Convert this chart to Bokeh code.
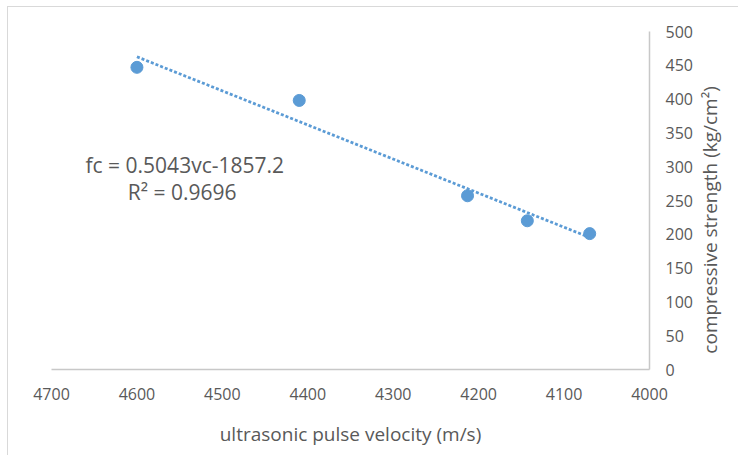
import math
from bokeh.plotting import figure
from bokeh.models import LinearAxis, Range1d, Label, FixedTicker
from bokeh.embed import file_html
from bokeh.resources import INLINE

# Data
velocity = [4600, 4410, 4213, 4143, 4070]          # ultrasonic pulse velocity (m/s)
strength = [447, 398, 257, 220, 201]                 # compressive strength (kg/cm²)
trend_x = [4600, 4070]
trend_y = [462.6, 195.3]
x_ticks = [4000, 4100, 4200, 4300, 4400, 4500, 4600, 4700]
y_ticks = [0, 50, 100, 150, 200, 250, 300, 350, 400, 450, 500]
equation_text = "fc = 0.5043vc-1857.2"
r2_text = "R\u00b2 = 0.9696"
y_title = "compressive strength (kg/cm\u00b2)"
y_title_at = 256  # vertical centre of the right-hand title, in axis units

FONT = "Open Sans"
TXT = "#595959"
BLUE = "#5b9bd5"
AXIS = "#c8c8c8"

p = figure(width=731, height=449, output_backend="svg", toolbar_location=None,
           x_range=Range1d(4700, 4000), y_range=Range1d(0, 500),
           y_axis_location=None, min_border_left=43, min_border_right=90,
           min_border_top=24, min_border_bottom=87)
p.styles = {"margin-left": "7px", "margin-top": "6px",
            "border-left": "1.5px solid #d9d9d9", "border-top": "1.5px solid #d9d9d9"}
p.outline_line_color = None
p.xgrid.grid_line_color = None
p.ygrid.grid_line_color = None
p.background_fill_color = "white"
p.border_fill_color = "white"

# x axis styling
xa = p.xaxis[0]
xa.ticker = FixedTicker(ticks=x_ticks)
xa.axis_label = "ultrasonic pulse velocity (m/s)"
xa.axis_line_color = AXIS
xa.axis_line_width = 1.5
xa.major_tick_line_color = None
xa.minor_tick_line_color = None
xa.major_label_standoff = 12
xa.major_label_text_font = FONT
xa.major_label_text_font_size = "16px"
xa.major_label_text_color = TXT
xa.axis_label_standoff = 18
xa.axis_label_text_font = FONT
xa.axis_label_text_font_size = "19px"
xa.axis_label_text_font_style = "normal"
xa.axis_label_text_color = TXT

# y axis on the right
ya = LinearAxis(ticker=FixedTicker(ticks=y_ticks))
ya.axis_line_color = AXIS
ya.axis_line_width = 1.5
ya.major_tick_line_color = None
ya.minor_tick_line_color = None
ya.major_label_standoff = 10
ya.major_label_text_font = FONT
ya.major_label_text_font_size = "16px"
ya.major_label_text_color = TXT
p.add_layout(ya, "right")

# y axis title: a second right-hand axis whose single tick label is the title,
# rotated to read bottom-to-top
yt = LinearAxis(ticker=FixedTicker(ticks=[y_title_at]),
                major_label_overrides={y_title_at: y_title})
yt.major_label_orientation = math.pi / 2
yt.axis_line_color = None
yt.major_tick_line_color = None
yt.minor_tick_line_color = None
yt.major_label_standoff = 9
yt.major_label_text_font = FONT
yt.major_label_text_font_size = "19px"
yt.major_label_text_color = TXT
p.add_layout(yt, "right")

# trendline and points
p.line(trend_x, trend_y, line_color=BLUE, line_width=2.75, line_dash="3 2", line_cap="butt")
p.scatter(velocity, strength, size=12, fill_color=BLUE, line_color=BLUE)

# equation labels
p.add_layout(Label(x=4544, y=303, text=equation_text, text_align="center",
                   text_baseline="middle", text_font=FONT, text_font_size="21px",
                   text_color=TXT))
p.add_layout(Label(x=4547, y=262, text=r2_text, text_align="center",
                   text_baseline="middle", text_font=FONT, text_font_size="21px",
                   text_color=TXT))

open("out.html", "w").write(file_html(p, INLINE))
